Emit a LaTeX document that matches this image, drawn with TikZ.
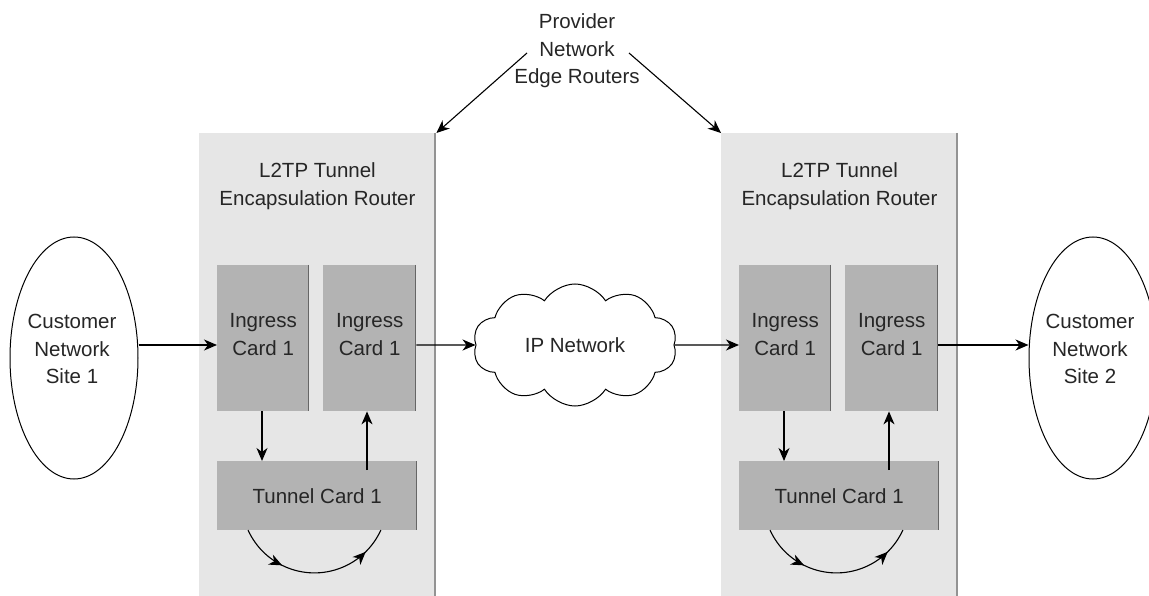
\documentclass[tikz,border=0pt]{standalone}
\usepackage{fontspec}
\setmainfont{Liberation Sans}
\usetikzlibrary{arrows.meta,shapes.geometric,shapes.symbols,decorations.markings}

\definecolor{txt}{HTML}{262626}
\definecolor{routerfill}{HTML}{E6E6E6}
\definecolor{routeredge}{HTML}{939393}
\definecolor{cardfill}{HTML}{B3B3B3}
\definecolor{cardedge}{HTML}{666666}

\tikzset{
  lbl/.style={font=\fontsize{20.5}{27.5}\selectfont, text=txt, align=center, inner sep=0pt},
  routerbox/.style={fill=routerfill, draw=none, anchor=north west, inner sep=0pt,
    minimum width=237pt, minimum height=463pt},
  routerside/.style={draw=routeredge, line width=2.4pt},
  card/.style={fill=cardfill, draw=none, anchor=north west, inner sep=0pt, lbl},
  cardside/.style={draw=cardedge, line width=1.4pt},
  arr/.style={draw=black, line width=1.1pt, -{Stealth[length=13pt,width=11pt,inset=4pt]}},
  loopflow/.style={draw=black, line width=1.1pt,
    decoration={markings,
      mark=at position 0.30 with {\arrow{Stealth[length=13pt,width=11pt,inset=4pt]}},
      mark=at position 0.84 with {\arrow{Stealth[length=13pt,width=11pt,inset=4pt]}}},
    postaction=decorate},
  site/.style={draw=black, line width=1pt, ellipse, inner sep=0pt,
    minimum width=128pt, minimum height=242pt},
  ipcloud/.style={draw=black, line width=1pt, cloud, cloud puffs=10, cloud puff arc=115,
    aspect=1.67, minimum width=204pt, minimum height=122pt, inner sep=0pt, lbl},
}

\begin{document}
\begin{tikzpicture}[x=1pt,y=-1pt]
\useasboundingbox (0,0) rectangle (1149,596);

% level of the main traffic flow
\coordinate (flow) at (0,345);

% the two encapsulation routers, identical apart from their position
\foreach \p/\dx in {L/0,R/522}{
  \begin{scope}[xshift=\dx pt]
    \node[routerbox] (\p box) at (199,133) {};
    \draw[routerside] ([xshift=-1.2pt]\p box.north east) -- ([xshift=-1.2pt]\p box.south east);
    \node[lbl] (\p title) at (317.5,186) {L2TP Tunnel\\Encapsulation Router};

    \node[card, text depth=8pt, minimum width=92pt, minimum height=146pt] (\p inA) at (217,265) {Ingress\\Card 1};
    \draw[cardside] ([xshift=-0.7pt]\p inA.north east) -- ([xshift=-0.7pt]\p inA.south east);
    \node[card, text depth=8pt, minimum width=93pt, minimum height=146pt] (\p inB) at (323,265) {Ingress\\Card 1};
    \draw[cardside] ([xshift=-0.7pt]\p inB.north east) -- ([xshift=-0.7pt]\p inB.south east);

    \node[card, minimum width=200pt, minimum height=69pt] (\p tun) at (217,461) {Tunnel Card 1};
    \draw[cardside] ([xshift=-0.7pt]\p tun.north east) -- ([xshift=-0.7pt]\p tun.south east);

    % card to card transfers
    \coordinate (\p down) at (262,0);
    \coordinate (\p up) at (367,470);
    \draw[arr] (\p inA.south -| \p down) -- (\p tun.north -| \p down);
    \draw[arr] (\p up) -- (\p inB.south -| \p up);

    % loop below the tunnel card
    \coordinate (\p loopstart) at (248,530);
    \draw[loopflow] (\p loopstart) arc[start angle=155.7, end angle=24.3, radius=72.9];
  \end{scope}
}

% customer sites
\node[site] (siteA) at (74,358) {};
\node[lbl] (siteAtxt) at (72,349) {Customer\\Network\\Site 1};
\node[site] (siteB) at (1093,358) {};
\node[lbl] (siteBtxt) at (1090,349) {Customer\\Network\\Site 2};

% provider core
\node[ipcloud] (ipnet) at (575,345) {IP Network};

% annotation
\node[lbl] (prov) at (577,51) {Provider\\Network\\Edge Routers};
\coordinate (provL) at (527,53);
\coordinate (provR) at (629,53);
\draw[arr] (provL) -- (Lbox.north east);
\draw[arr] (provR) -- (Rbox.north west);

% traffic path
\draw[arr] (siteA.east |- flow) -- (LinA.west |- flow);
\draw[arr] (LinB.east |- flow) -- (ipnet.west);
\draw[arr] (ipnet.east) -- (RinA.west |- flow);
\draw[arr] (RinB.east |- flow) -- (siteB.west |- flow);
\end{tikzpicture}
\end{document}
